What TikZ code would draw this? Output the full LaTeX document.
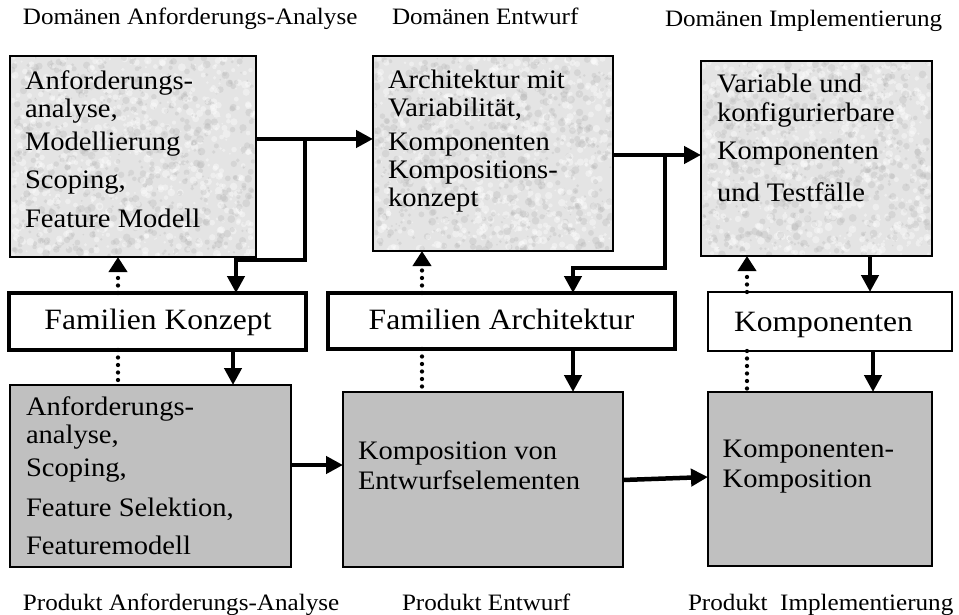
\documentclass[tikz,border=0pt]{standalone}
\usepackage{fontspec}
\setmainfont{Liberation Serif}[FakeStretch=1.07]
\usetikzlibrary{arrows.meta,calc}

\definecolor{grainbase}{RGB}{228,228,228}
\definecolor{grainspot}{RGB}{180,180,180}
\definecolor{prodgray}{RGB}{192,192,192}

% granite-like speckles inside a rectangle: x0, y0, width, height, seed
\newcommand\boxgrain[5]{%
  \begin{scope}
    \clip (#1,#2) rectangle ++(#3,#4);
    \pgfmathsetseed{#5}%
    \foreach \i in {1,...,1300}{%
      \pgfmathsetmacro\gx{#1+rnd*#3}%
      \pgfmathsetmacro\gy{#2+rnd*#4}%
      \pgfmathsetmacro\gr{0.8+rnd*3.2}%
      \pgfmathsetmacro\gs{rnd}%
      \ifdim\gs pt<0.5pt
        \fill[white, opacity=0.4] (\gx,\gy) circle[radius=\gr pt];
      \else
        \fill[grainspot, opacity=0.3] (\gx,\gy) circle[radius=\gr pt];
      \fi
    }
  \end{scope}}

\begin{document}
\begin{tikzpicture}[x=1pt,y=-1pt,
  every node/.style={inner sep=0pt, outer sep=0pt},
  grainbox/.style={draw=black, line width=1.8pt, fill=grainbase, rectangle},
  famthick/.style={draw=black, line width=4pt, fill=white, rectangle},
  famthin/.style={draw=black, line width=1.8pt, fill=white, rectangle},
  prodbox/.style={draw=black, line width=1.8pt, fill=prodgray, rectangle},
  boxtxt/.style={anchor=north west, align=left, font=\fontsize{26.7}{28}\selectfont},
  famtxt/.style={anchor=base, font=\fontsize{29.5}{33}\selectfont},
  phase/.style={anchor=base west, font=\fontsize{23.5}{27}\selectfont},
  flow/.style={line width=4.5pt, -{Triangle[length=17pt,width=17pt]}},
  trace/.style={line width=4.3pt, line cap=round, dash pattern=on 0pt off 7.5pt},
  tracearr/.style={trace, -{Triangle[length=15pt,width=18pt]}},
]
\fill[white] (0,0) rectangle (959,615);
\useasboundingbox (0,0) rectangle (959,615);

% ---- phase captions ----
\node[phase] (t1) at (23,25) {Domänen Anforderungs-Analyse};
\node[phase] (t2) at (392,25) {Domänen Entwurf};
\node[phase] (t3) at (665,27) {Domänen Implementierung};
\node[phase] (u1) at (23,610) {Produkt Anforderungs-Analyse};
\node[phase] (u2) at (402,610) {Produkt Entwurf};
\node[phase] (u3) at (688,610) {Produkt\ \ Implementierung};

% ---- domain engineering (top row) ----
\node[grainbox, minimum width=246, minimum height=201] (a1) at (133,156.5) {};
\boxgrain{11.5}{57.5}{243}{198}{11}
\node[grainbox, minimum width=240, minimum height=195] (a2) at (493,153.5) {};
\boxgrain{374.5}{57.5}{237}{192}{23}
\node[grainbox, minimum width=231, minimum height=195] (a3) at (816.5,158.5) {};
\boxgrain{702.5}{62.5}{228}{192}{37}

% text blocks: top edge = first baseline - 21
\node[boxtxt] (a1t) at (25,68) {\rule{0pt}{21pt}Anforderungs-\\analyse,\\[5pt]Modellierung\\[10pt]Scoping,\\[11pt]Feature Modell};
\node[boxtxt] (a2t) at (388,67.3) {\rule{0pt}{21pt}Architektur mit\\Variabilität,\\[6pt]Komponenten\\Kompositions-\\konzept};
\node[boxtxt] (a3t) at (717,71.7) {\rule{0pt}{21pt}Variable und\\[1pt]konfigurierbare\\[10pt]Komponenten\\[14pt]und Testfälle};

% ---- family assets (middle row) ----
\node[famthick, minimum width=297, minimum height=57] (fk) at (157.5,321.5) {};
\node[famtxt] (fkt) at (158,329) {Familien Konzept};
\node[famthick, minimum width=347, minimum height=56] (fa) at (501.5,321) {};
\node[famtxt] (fat) at (501.5,329) {Familien Architektur};
\node[famthin, minimum width=244, minimum height=59] (ko) at (830,321.5) {};
\node[famtxt] (kot) at (823.5,331) {Komponenten};

% ---- application engineering (bottom row) ----
\node[prodbox, minimum width=281, minimum height=182] (b1) at (150.5,476) {};
\node[prodbox, minimum width=280, minimum height=175] (b2) at (483,479.5) {};
\node[prodbox, minimum width=224, minimum height=174] (b3) at (820,479) {};

\node[boxtxt] (b1t) at (26,394) {\rule{0pt}{21pt}Anforderungs-\\analyse,\\[5pt]Scoping,\\[12pt]Feature Selektion,\\[10pt]Featuremodell};
\node[boxtxt] (b2t) at (358,438.3) {\rule{0pt}{21pt}Komposition von\\[2pt]Entwurfselementen};
\node[boxtxt] (b3t) at (722.7,436.3) {\rule{0pt}{21pt}Komponenten-\\[2pt]Komposition};

% ---- routing points ----
\coordinate (j1) at (305,139);
\coordinate (k1) at (236,260);
\coordinate (j2) at (665,155);
\coordinate (k2) at (573,268);
\coordinate (c3) at (870,0);
\coordinate (d1) at (118,0);
\coordinate (d2) at (422,0);
\coordinate (d3) at (747,0);
\coordinate (s1) at (233,0);
\coordinate (s2) at (573,0);
\coordinate (s3) at (873,0);
\coordinate (h1) at (0,465);
\coordinate (h2) at (0,480);
\coordinate (h3) at (0,477);

% ---- domain flow ----
\draw[flow] (a1.east |- j1) -- (a2.west |- j1);
\draw[flow] (j1) |- (k1) -- (k1 |- fk.north);
\draw[flow] (a2.east |- j2) -- (a3.west |- j2);
\draw[flow] (j2) |- (k2) -- (k2 |- fa.north);
\draw[flow] (a3.south -| c3) -- (ko.north -| c3);

% ---- feedback to the domain ----
\draw[tracearr] (fk.north -| d1) -- (a1.south -| d1);
\draw[tracearr] (fa.north -| d2) -- (a2.south -| d2);
\draw[tracearr] (ko.north -| d3) -- (a3.south -| d3);

% ---- family assets to products ----
\draw[trace] (fk.south -| d1) -- (b1.north -| d1);
\draw[trace] (fa.south -| d2) -- (b2.north -| d2);
\draw[trace] (ko.south -| d3) -- (b3.north -| d3);
\draw[flow] (fk.south -| s1) -- (b1.north -| s1);
\draw[flow] (fa.south -| s2) -- (b2.north -| s2);
\draw[flow] (ko.south -| s3) -- (b3.north -| s3);

% ---- product flow ----
\draw[flow] (b1.east |- h1) -- (b2.west |- h1);
\draw[flow] (b2.east |- h2) -- (b3.west |- h3);
\end{tikzpicture}
\end{document}
